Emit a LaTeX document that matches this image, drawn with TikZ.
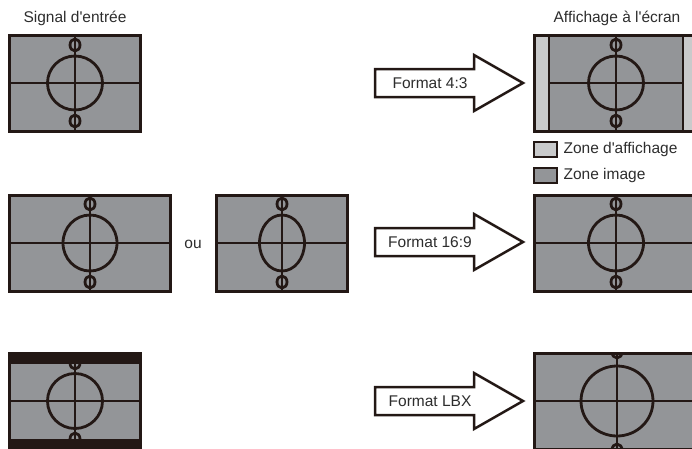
\documentclass[tikz,border=0pt]{standalone}
\usepackage{fontspec}
\setmainfont{Liberation Sans}
\usepackage{tikz}
\usetikzlibrary{positioning}
\definecolor{inkdark}{RGB}{35,24,21}
\definecolor{imggray}{RGB}{147,149,152}
\definecolor{sidegray}{RGB}{201,202,203}
\definecolor{txtgray}{RGB}{45,45,45}

% test card: #1 cx, #2 cy, #3 half width, #4 half height,
% #5 x radius, #6 y radius, #7 offset of the small rings
\newcommand{\testcard}[7]{%
  \begin{scope}
    \clip (#1-#3,#2-#4) rectangle (#1+#3,#2+#4);
    \fill[imggray] (#1-#3,#2-#4) rectangle (#1+#3,#2+#4);
    \draw[cardline] (#1-#3,#2) -- (#1+#3,#2);
    \draw[cardline] (#1,#2-#4) -- (#1,#2+#4);
    \draw[cardline] (#1,#2) ellipse [x radius=#5, y radius=#6];
    \draw[cardline] (#1,#2-#7) ellipse [x radius=5, y radius=6];
    \draw[cardline] (#1,#2+#7) ellipse [x radius=5, y radius=6];
  \end{scope}}

% big format arrow: #1 name, #2 y of tip, #3 text
\newcommand{\fmtarrow}[3]{%
  \draw[bigarrow] (375,#2-14) -- (474,#2-14) -- (474,#2-28) -- (523,#2)
    -- (474,#2+28) -- (474,#2+14) -- (375,#2+14) -- cycle;
  \node[fmtlabel] (#1) at (430,#2) {#3};}

\begin{document}
\begin{tikzpicture}[x=1pt, y=-1pt,
  font=\fontsize{15.5}{18}\selectfont,
  cardline/.style={draw=inkdark, line width=2.8pt},
  cardframe/.style={rectangle, draw=inkdark, line width=3pt, inner sep=0pt},
  bigarrow/.style={draw=inkdark, fill=white, line width=2.5pt, line join=miter},
  fmtlabel/.style={text=txtgray},
  title/.style={text=txtgray},
  swatch/.style={rectangle, draw=inkdark, line width=2pt,
    minimum width=23pt, minimum height=15pt, inner sep=0pt}
]
\useasboundingbox (0,0) rectangle (692,448);
\clip (0,0) rectangle (692,448);

% titles
\node[title] (input) at (75,18) {Signal d\textquotesingle entrée};
\node[title] (output) at (617,18) {Affichage à l\textquotesingle écran};

% input signals
\testcard{75}{83}{65.5}{48}{27.5}{27}{38}
\node[cardframe, minimum width=131pt, minimum height=96pt] (in43) at (75,83) {};

\testcard{90}{243}{80.5}{48}{27}{28}{39}
\node[cardframe, minimum width=161pt, minimum height=96pt] (in169) at (90,243) {};

\node[title] (ou) at (193,244) {ou};

\testcard{282}{243}{65.5}{48}{22.5}{28}{39}
\node[cardframe, minimum width=131pt, minimum height=96pt] (insq) at (282,243) {};

\fill[inkdark] (9.5,353) rectangle (140.5,449);
\testcard{75}{401}{65.5}{37.5}{27.5}{27.5}{38}
\node[cardframe, minimum width=131pt, minimum height=96pt] (inlbx) at (75,401) {};

% format arrows
\fmtarrow{f43}{83}{Format 4:3}
\fmtarrow{f169}{242}{Format 16:9}
\fmtarrow{flbx}{401}{Format LBX}

% screen display
\fill[sidegray] (534,35) rectangle (698,131);
\testcard{616}{83}{67}{48}{27.5}{27}{38}
\draw[cardline] (549,35) -- (549,131);
\draw[cardline] (683,35) -- (683,131);
\node[cardframe, minimum width=164pt, minimum height=96pt] (out43) at (616,83) {};

\testcard{616}{243}{82}{48}{27.5}{28}{39}
\node[cardframe, minimum width=164pt, minimum height=96pt] (out169) at (616,243) {};

\testcard{617}{401}{82}{48}{36}{35}{49}
\node[cardframe, minimum width=164pt, minimum height=96pt] (outlbx) at (616,401) {};

% legend
\node[swatch, fill=sidegray] (affsw) at (545.5,149) {};
\node[title, right=2pt of affsw] (zaff) {Zone d\textquotesingle affichage};
\node[swatch, fill=imggray] (imgsw) at (545.5,175.5) {};
\node[title, right=2pt of imgsw] (zimg) {Zone image};
\end{tikzpicture}
\end{document}
